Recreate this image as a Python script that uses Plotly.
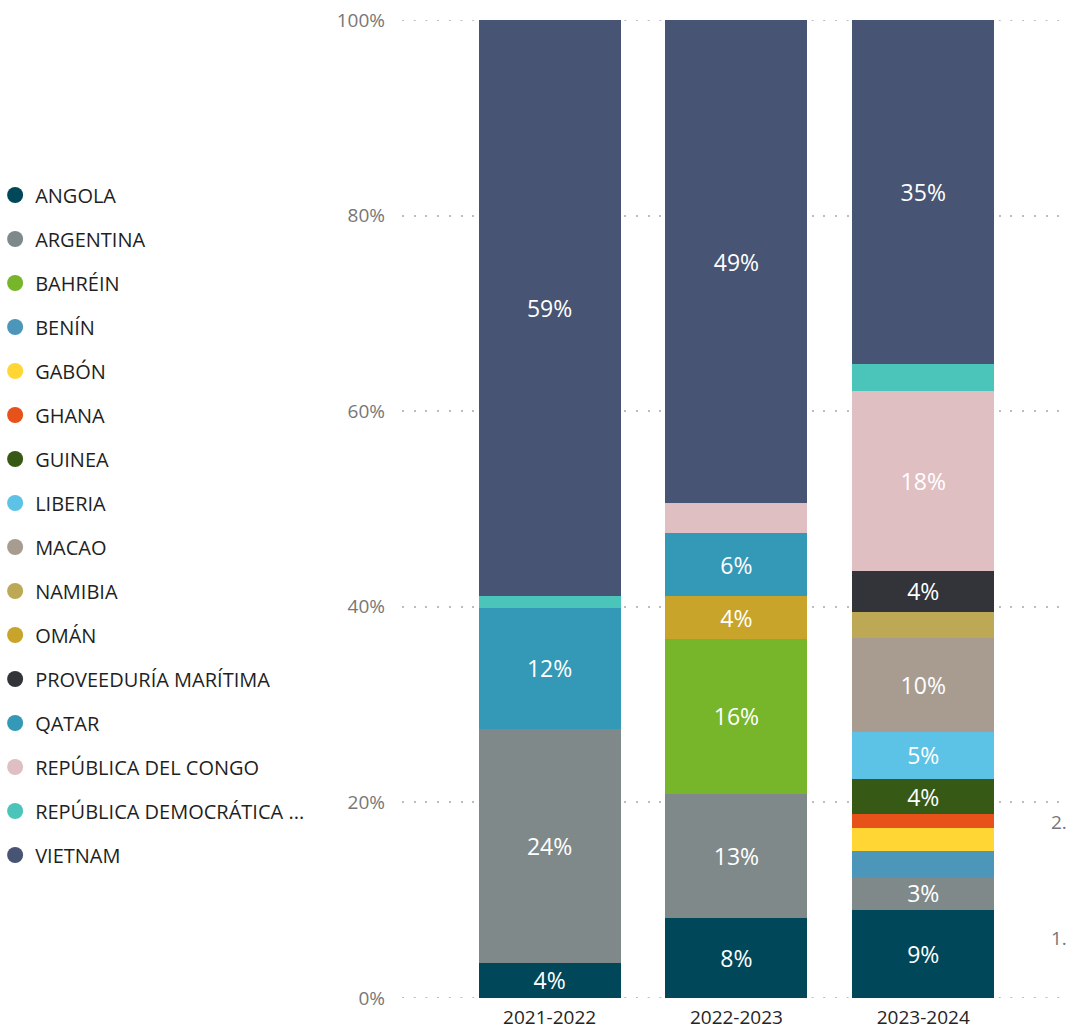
import plotly.graph_objects as go

# Periods on the category axis
years = ["2021-2022", "2022-2023", "2023-2024"]

# Share of each destination per period (%), None where absent
angola = [3.6, 8.2, 9.0]
argentina = [23.9, 12.7, 3.4]
bahrein = [None, 15.8, None]
benin = [None, None, 2.6]
gabon = [None, None, 2.4]
ghana = [None, None, 1.4]
guinea = [None, None, 3.6]
liberia = [None, None, 4.8]
macao = [None, None, 9.6]
namibia = [None, None, 2.7]
oman = [None, 4.4, None]
proveeduria = [None, None, 4.2]
qatar = [12.4, 6.4, None]
rep_congo = [None, 3.1, 18.4]
rep_dem_congo = [1.2, None, 2.7]
vietnam = [58.9, 49.4, 35.2]

y_ticks = [0, 20, 40, 60, 80, 100]
y_tick_labels = [f"{v}%" for v in y_ticks]

series = [
    ("ANGOLA", angola, "#01475A"),
    ("ARGENTINA", argentina, "#7F898A"),
    ("BAHRÉIN", bahrein, "#77B52A"),
    ("BENÍN", benin, "#4C96B9"),
    ("GABÓN", gabon, "#FFD633"),
    ("GHANA", ghana, "#E6521A"),
    ("GUINEA", guinea, "#375916"),
    ("LIBERIA", liberia, "#5CC2E6"),
    ("MACAO", macao, "#A89C91"),
    ("NAMIBIA", namibia, "#BDA855"),
    ("OMÁN", oman, "#C8A42A"),
    ("PROVEEDURÍA MARÍTIMA", proveeduria, "#33343A"),
    ("QATAR", qatar, "#3498B7"),
    ("REPÚBLICA DEL CONGO", rep_congo, "#DFBFC1"),
    ("REPÚBLICA DEMOCRÁTICA ...", rep_dem_congo, "#4BC5BA"),
    ("VIETNAM", vietnam, "#475473"),
]

FONT = "Segoe UI, Open Sans, sans-serif"
GRID_COLOR = "#BDBDBD"
GRID_DASH = "2px,9.7px"

fig = go.Figure()

# Stacked segments, labelled only when tall enough
for name, vals, color in series:
    labels = [f"{v:.0f}%" if (v is not None and v >= 3.3) else "" for v in vals]
    fig.add_trace(go.Bar(
        x=years, y=vals, name=name, marker=dict(color=color, line=dict(width=0)),
        text=labels, textposition="inside", insidetextanchor="middle",
        textangle=0, textfont=dict(color="white", size=23, family=FONT),
        showlegend=False, hoverinfo="x+y+name",
    ))

# Legend entries drawn as round markers
for i, (name, vals, color) in enumerate(series):
    fig.add_trace(go.Scatter(
        x=[None], y=[None], mode="markers", name=name,
        marker=dict(color=color, size=19, symbol="circle"),
        legendgroup=f"g{i}", showlegend=True,
    ))

fig.update_layout(
    width=1069, height=1031,
    margin=dict(l=402, r=0, t=20, b=33, autoexpand=False),
    barmode="stack", bargap=0.24,
    paper_bgcolor="white", plot_bgcolor="white",
    font=dict(family=FONT),
    uniformtext=dict(minsize=23, mode="show"),
    legend=dict(
        x=-0.61, xanchor="left", y=0.841, yanchor="top",
        traceorder="grouped", tracegroupgap=15,
        font=dict(size=20, color="#1F1F1F", family=FONT),
        itemsizing="trace", bgcolor="rgba(0,0,0,0)",
    ),
    xaxis=dict(
        type="category", range=[-0.79, 2.78], automargin=False,
        showgrid=False, zeroline=False, showline=False, ticks="",
        ticklabelstandoff=6,
        tickfont=dict(size=19, color="#252423", family=FONT),
        fixedrange=True,
    ),
    yaxis=dict(
        range=[0, 100], tickvals=y_ticks, ticktext=y_tick_labels, automargin=False,
        showgrid=True, gridcolor=GRID_COLOR, gridwidth=2, griddash=GRID_DASH,
        zeroline=False, showline=False, ticks="", ticklabelstandoff=16,
        tickfont=dict(size=19, color="#777777", family=FONT),
        fixedrange=True,
    ),
)

# Gridlines on the axis ends (0% and 100%), beneath the bars
for yv in (y_ticks[0], y_ticks[-1]):
    fig.add_shape(
        type="line", xref="paper", x0=0, x1=1, yref="y", y0=yv, y1=yv,
        line=dict(color=GRID_COLOR, width=2, dash=GRID_DASH), layer="below",
    )

# Short value labels at the far right edge
for txt, yv in [("2.", 18.0), ("1.", 6.1)]:
    fig.add_annotation(
        x=1.0, xref="paper", y=yv, yref="y", text=txt, showarrow=False,
        xanchor="right", yanchor="middle",
        font=dict(size=19, color="#777777", family=FONT),
    )

fig.write_html("out.html")
